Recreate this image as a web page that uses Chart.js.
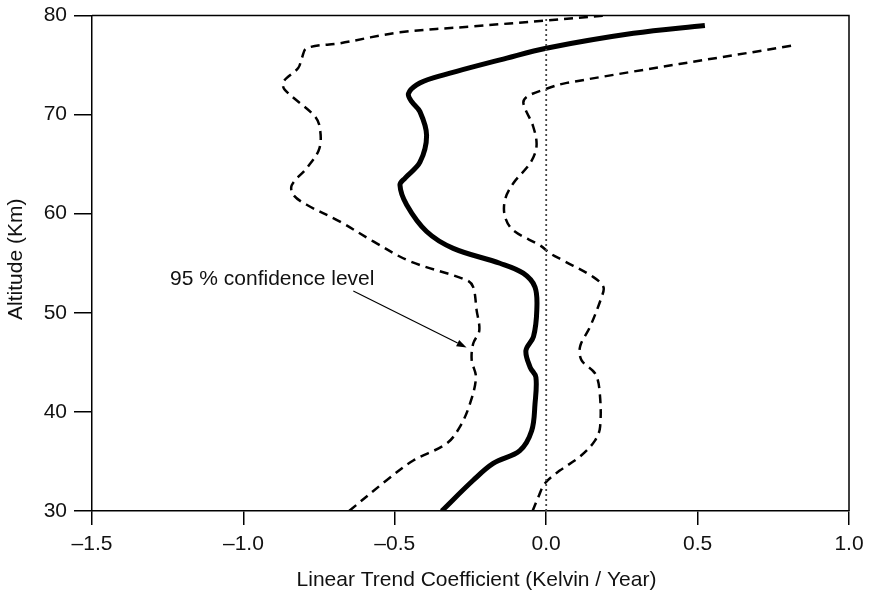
<!DOCTYPE html>
<html>
<head>
<meta charset="utf-8">
<script src="https://cdn.jsdelivr.net/npm/chart.js@4/dist/chart.umd.min.js"></script>
<style>
  html, body { margin: 0; padding: 0; background: #ffffff; }
  #wrap { width: 871px; height: 594px; }
</style>
</head>
<body>
<div id="wrap"><canvas id="c" width="871" height="594"></canvas></div>
<script>
// Altitude profile of the linear temperature trend, with its 95 % confidence bounds.

// Axis ticks
const xTicks = [-1.5, -1.0, -0.5, 0.0, 0.5, 1.0];
const xTickLabels = ['\u20131.5', '\u20131.0', '\u20130.5', '0.0', '0.5', '1.0'];
const yTicks = [30, 40, 50, 60, 70, 80];
const yTickLabels = ['30', '40', '50', '60', '70', '80'];

// Mean trend (K / year) against altitude (km)
const meanAlt   = [30.0, 33.1, 34.8, 36.1, 38.1, 40.8, 43.5, 44.5, 46.2, 47.6, 50.3, 52.6, 54.0, 55.0, 56.5, 58.2, 60.9, 62.9, 63.6, 65.2, 67.9, 70.3, 71.3, 72.1, 73.0, 73.7, 75.7, 76.7, 78.2, 79.0];
const meanTrend = [-0.345, -0.241, -0.175, -0.087, -0.048, -0.037, -0.034, -0.053, -0.067, -0.042, -0.031, -0.037, -0.076, -0.153, -0.307, -0.395, -0.461, -0.483, -0.466, -0.417, -0.395, -0.417, -0.444, -0.455, -0.428, -0.373, -0.130, 0.000, 0.288, 0.524];

// Lower 95 % confidence bound
const lowerAlt   = [30.0, 33.1, 35.1, 36.8, 38.5, 40.8, 43.5, 45.2, 46.9, 48.2, 50.3, 52.6, 53.3, 55.2, 57.2, 59.2, 60.9, 61.9, 62.9, 64.6, 66.6, 68.9, 70.0, 72.5, 73.3, 74.7, 75.7, 76.7, 77.2, 78.3, 78.9, 79.5, 80.0];
const lowerTrend = [-0.651, -0.527, -0.439, -0.329, -0.285, -0.252, -0.232, -0.246, -0.241, -0.221, -0.230, -0.241, -0.263, -0.450, -0.571, -0.681, -0.791, -0.835, -0.840, -0.791, -0.749, -0.749, -0.769, -0.863, -0.868, -0.819, -0.807, -0.791, -0.681, -0.483, -0.241, 0.000, 0.200];

// Upper 95 % confidence bound
const upperAlt   = [30.0, 31.4, 32.8, 34.1, 35.5, 37.1, 38.5, 42.2, 43.9, 45.2, 46.6, 48.6, 51.6, 52.6, 53.6, 55.3, 56.0, 56.8, 58.3, 59.7, 61.4, 63.1, 65.1, 66.8, 68.8, 71.1, 71.8, 72.6, 73.2, 76.95];
const upperTrend = [-0.045, -0.026, -0.004, 0.046, 0.112, 0.161, 0.178, 0.176, 0.161, 0.117, 0.112, 0.145, 0.183, 0.189, 0.156, 0.055, 0.013, -0.020, -0.108, -0.136, -0.136, -0.108, -0.053, -0.032, -0.043, -0.075, -0.064, 0.000, 0.068, 0.811];

// Zero-trend reference
const zeroLineAlt = [30, 80];
const zeroLineTrend = [0, 0];

// Callout: label anchor (left, middle) and arrow from/to, in data units
const calloutText = '95 % confidence level';
const calloutLabelAt = [-1.242, 53.4];
const calloutArrowFrom = [-0.637, 52.2];
const calloutArrowTo = [-0.263, 46.5];

const FONT = "'Liberation Sans', Arial, Helvetica, sans-serif";
const FONT_SIZE = 21;
const pts = (alts, vals) => alts.map((a, i) => ({ x: vals[i], y: a }));

const framePlugin = {
  id: 'frame',
  afterDraw(chart) {
    const { ctx, chartArea: a, scales: { x, y } } = chart;
    ctx.save();
    // top and right edges of the plot box
    ctx.strokeStyle = '#000';
    ctx.lineWidth = 1.5;
    ctx.beginPath();
    ctx.moveTo(a.left, a.top);
    ctx.lineTo(a.right, a.top);
    ctx.lineTo(a.right, a.bottom);
    ctx.stroke();

    // axis titles
    ctx.fillStyle = '#111';
    ctx.font = FONT_SIZE + 'px ' + FONT;
    ctx.textAlign = 'center';
    ctx.textBaseline = 'middle';
    ctx.fillText('Linear Trend Coefficient (Kelvin / Year)', (a.left + a.right) / 2 + 6, 580);
    ctx.save();
    ctx.translate(16, (a.top + a.bottom) / 2 - 4);
    ctx.rotate(-Math.PI / 2);
    ctx.fillText('Altitude (Km)', 0, 0);
    ctx.restore();

    // callout text
    ctx.textAlign = 'left';
    ctx.fillText(calloutText, x.getPixelForValue(calloutLabelAt[0]), y.getPixelForValue(calloutLabelAt[1]));

    // callout arrow
    const x0 = x.getPixelForValue(calloutArrowFrom[0]), y0 = y.getPixelForValue(calloutArrowFrom[1]);
    const x1 = x.getPixelForValue(calloutArrowTo[0]), y1 = y.getPixelForValue(calloutArrowTo[1]);
    const ang = Math.atan2(y1 - y0, x1 - x0);
    const head = 10, half = 3.5;
    ctx.strokeStyle = '#000';
    ctx.lineWidth = 1.2;
    ctx.beginPath();
    ctx.moveTo(x0, y0);
    ctx.lineTo(x1 - head * Math.cos(ang), y1 - head * Math.sin(ang));
    ctx.stroke();
    ctx.fillStyle = '#000';
    ctx.beginPath();
    ctx.moveTo(x1, y1);
    ctx.lineTo(x1 - head * Math.cos(ang) + half * Math.sin(ang), y1 - head * Math.sin(ang) - half * Math.cos(ang));
    ctx.lineTo(x1 - head * Math.cos(ang) - half * Math.sin(ang), y1 - head * Math.sin(ang) + half * Math.cos(ang));
    ctx.closePath();
    ctx.fill();
    ctx.restore();
  }
};

new Chart(document.getElementById('c'), {
  type: 'scatter',
  data: {
    datasets: [
      {
        data: pts(zeroLineAlt, zeroLineTrend),
        showLine: true, borderColor: '#444', borderWidth: 1.8, borderDash: [2, 3],
        pointRadius: 0, tension: 0
      },
      {
        data: pts(lowerAlt, lowerTrend),
        showLine: true, borderColor: '#000', borderWidth: 2.5, borderDash: [9, 6],
        borderCapStyle: 'butt', pointRadius: 0, tension: 0.35
      },
      {
        data: pts(upperAlt, upperTrend),
        showLine: true, borderColor: '#000', borderWidth: 2.5, borderDash: [9, 6],
        borderCapStyle: 'butt', pointRadius: 0, tension: 0.35
      },
      {
        data: pts(meanAlt, meanTrend),
        showLine: true, borderColor: '#000', borderWidth: 5,
        borderCapStyle: 'butt', borderJoinStyle: 'round', pointRadius: 0, tension: 0.35
      }
    ]
  },
  options: {
    responsive: false,
    animation: false,
    events: [],
    layout: { padding: { left: 0, top: 15.5, right: 22, bottom: 0 } },
    plugins: { legend: { display: false }, tooltip: { enabled: false } },
    scales: {
      x: {
        type: 'linear', min: -1.5, max: 1.0,
        afterBuildTicks: s => { s.ticks = xTicks.map(v => ({ value: v })); },
        afterFit: s => { s.height = 83; },
        ticks: {
          color: '#111', font: { family: FONT, size: FONT_SIZE }, padding: 7,
          maxRotation: 0, autoSkip: false,
          callback: v => xTickLabels[xTicks.findIndex(t => Math.abs(t - v) < 1e-9)]
        },
        grid: { drawOnChartArea: false, drawTicks: true, tickLength: 14, color: '#000', lineWidth: 1.5 },
        border: { display: true, color: '#000', width: 1.5 }
      },
      y: {
        type: 'linear', min: 30, max: 80,
        afterBuildTicks: s => { s.ticks = yTicks.map(v => ({ value: v })); },
        afterFit: s => { s.width = 92; },
        ticks: {
          color: '#111', font: { family: FONT, size: FONT_SIZE, lineHeight: 0.7 }, padding: 7,
          autoSkip: false,
          callback: v => yTickLabels[yTicks.findIndex(t => Math.abs(t - v) < 1e-9)]
        },
        grid: { drawOnChartArea: false, drawTicks: true, tickLength: 18, color: '#000', lineWidth: 1.5 },
        border: { display: true, color: '#000', width: 1.5 }
      }
    }
  },
  plugins: [framePlugin]
});
</script>
</body>
</html>
